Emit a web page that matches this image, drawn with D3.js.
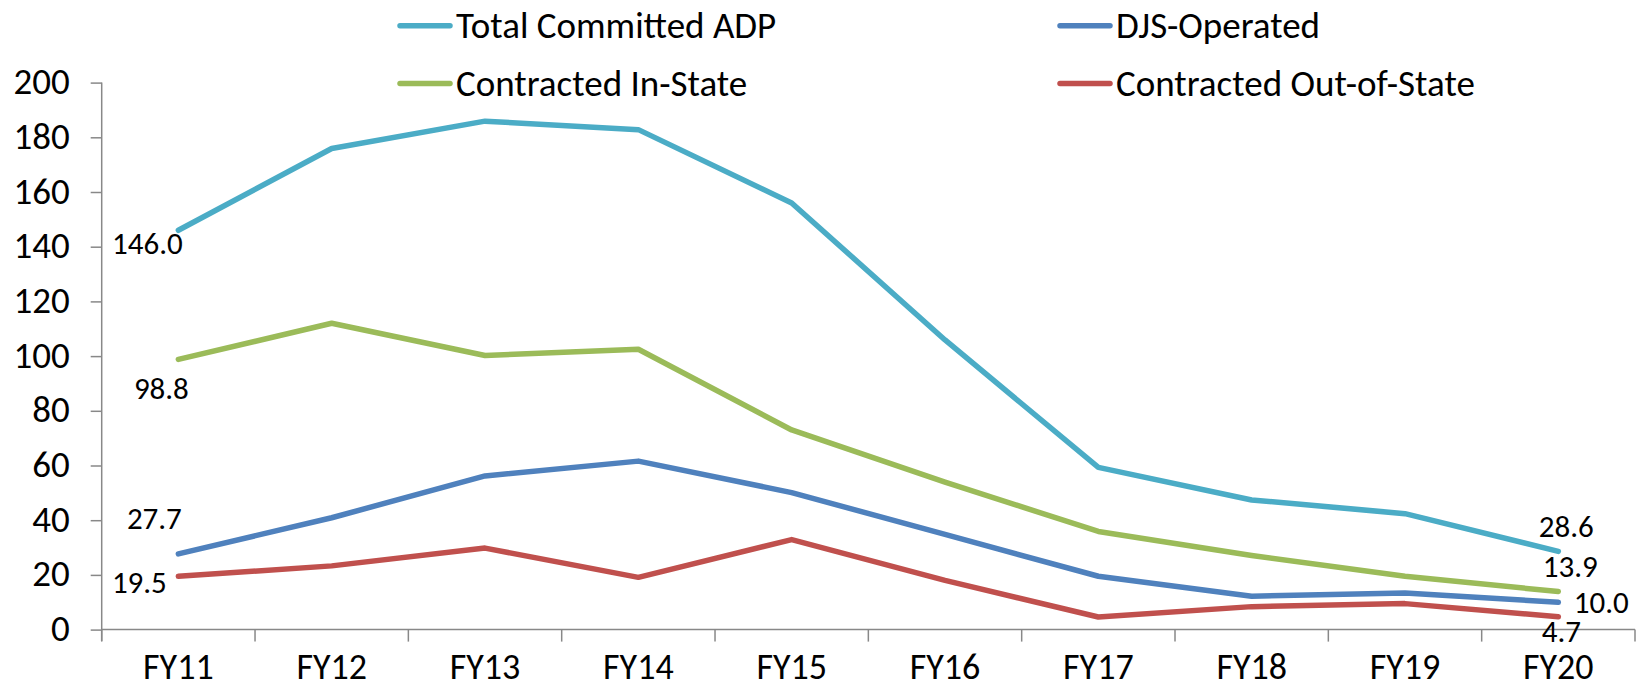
<!DOCTYPE html>
<html>
<head>
<meta charset="utf-8">
<script src="https://cdn.jsdelivr.net/npm/d3@7"></script>
<style>
  html, body { margin: 0; padding: 0; background: #fff; }
  svg { display: block; }
  text { font-family: Carlito, Lato, "Liberation Sans", sans-serif; fill: #000; }
</style>
</head>
<body>
<svg id="chart" width="1641" height="692"></svg>
<script>
// ---- data ----
const categories = ["FY11","FY12","FY13","FY14","FY15","FY16","FY17","FY18","FY19","FY20"];
const totalCommitted   = [146.0, 175.9, 185.9, 182.8, 156.0, 105.9, 59.3, 47.4, 42.4, 28.6];
const djsOperated      = [27.7, 40.9, 56.2, 61.6, 50.1, 34.8, 19.5, 12.2, 13.4, 10.0];
const contractedIn     = [98.8, 112.0, 100.2, 102.5, 73.0, 53.9, 35.9, 27.1, 19.5, 13.9];
const contractedOut    = [19.5, 23.3, 29.8, 19.1, 32.9, 18.0, 4.6, 8.4, 9.5, 4.7];
const yTicks = [0, 20, 40, 60, 80, 100, 120, 140, 160, 180, 200];
const seriesNames = ["Total Committed ADP", "DJS-Operated", "Contracted In-State", "Contracted Out-of-State"];

// ---- styling / layout config ----
const colors = {
  "Total Committed ADP": "#4BACC6",
  "DJS-Operated": "#4F81BD",
  "Contracted In-State": "#9BBB59",
  "Contracted Out-of-State": "#C0504D"
};
const series = [
  { name: "Total Committed ADP", values: totalCommitted },
  { name: "Contracted In-State", values: contractedIn },
  { name: "DJS-Operated", values: djsOperated },
  { name: "Contracted Out-of-State", values: contractedOut }
];
// label offsets (dx, dy of label centre from point) for first and last points
const labelOffsets = {
  "Total Committed ADP":     { first: [-31, 13], last: [8, -25] },
  "Contracted In-State":     { first: [-17, 29], last: [12, -26] },
  "DJS-Operated":            { first: [-24, -36], last: [43, 0] },
  "Contracted Out-of-State": { first: [-39, 6], last: [3, 14] }
};

const svg = d3.select("#chart");
const mLeft = 101.7, mRight = 1635, mTop = 82.6, mBottom = 629.6;

const x = d3.scaleBand().domain(categories).range([mLeft, mRight]).padding(0);
const y = d3.scaleLinear().domain([0, 200]).range([mBottom, mTop]);
const cx = c => x(c) + x.bandwidth() / 2;

const axisColor = "#888888";

// y axis
const yAxis = d3.axisLeft(y).tickValues(yTicks).tickSize(11).tickSizeOuter(0).tickFormat(d3.format("d"));
const yg = svg.append("g").attr("transform", `translate(${mLeft},0)`).call(yAxis);
yg.select(".domain").attr("stroke", axisColor).attr("stroke-width", 1.5)
  .attr("d", `M0,${mTop}V${mBottom + 11.5}`);
yg.selectAll(".tick line").attr("stroke", axisColor).attr("stroke-width", 1.5);
yg.selectAll(".tick text")
  .attr("x", -32).attr("dy", null).attr("y", 11)
  .style("font-size", "37px").style("font-family", "Carlito, Lato, sans-serif")
  .attr("fill", "#000");

// x axis
const xg = svg.append("g");
xg.append("line").attr("x1", mLeft).attr("x2", mRight).attr("y1", mBottom).attr("y2", mBottom)
  .attr("stroke", axisColor).attr("stroke-width", 1.5);
const boundaries = categories.map(c => x(c)).concat([x(categories[categories.length - 1]) + x.bandwidth()]);
xg.selectAll("line.tk").data(boundaries).enter().append("line").attr("class", "tk")
  .attr("x1", d => d).attr("x2", d => d).attr("y1", mBottom).attr("y2", mBottom + 12)
  .attr("stroke", axisColor).attr("stroke-width", 1.5);
xg.selectAll("text").data(categories).enter().append("text")
  .attr("x", d => cx(d)).attr("y", 679)
  .attr("text-anchor", "middle")
  .style("font-size", "36px")
  .text(d => d);

// lines
const line = d3.line().x((d, i) => cx(categories[i])).y(d => y(d));
svg.append("g").selectAll("path").data(series).enter().append("path")
  .attr("d", d => line(d.values))
  .attr("fill", "none")
  .attr("stroke", d => colors[d.name])
  .attr("stroke-width", 5.5)
  .attr("stroke-linecap", "round")
  .attr("stroke-linejoin", "round");

// data labels (first & last)
const lbl = svg.append("g");
series.forEach(s => {
  const n = s.values.length;
  [[0, "first"], [n - 1, "last"]].forEach(([i, k]) => {
    const off = labelOffsets[s.name][k];
    lbl.append("text")
      .attr("x", cx(categories[i]) + off[0])
      .attr("y", y(s.values[i]) + off[1] + 11)
      .attr("text-anchor", "middle")
      .style("font-size", "31px")
      .text(d3.format(".1f")(s.values[i]));
  });
});

// legend
const legendItems = [
  { name: "Total Committed ADP", lx: 397, ly: 25.7 },
  { name: "DJS-Operated", lx: 1057, ly: 25.7 },
  { name: "Contracted In-State", lx: 397, ly: 83.5 },
  { name: "Contracted Out-of-State", lx: 1057, ly: 83.5 }
];
const lg = svg.append("g");
legendItems.forEach(it => {
  lg.append("line").attr("x1", it.lx + 3).attr("x2", it.lx + 53)
    .attr("y1", it.ly).attr("y2", it.ly)
    .attr("stroke", colors[it.name]).attr("stroke-width", 5.5).attr("stroke-linecap", "round");
  lg.append("text").attr("x", it.lx + 59).attr("y", it.ly + 12.5)
    .style("font-size", "37px")
    .text(it.name);
});
</script>
</body>
</html>
